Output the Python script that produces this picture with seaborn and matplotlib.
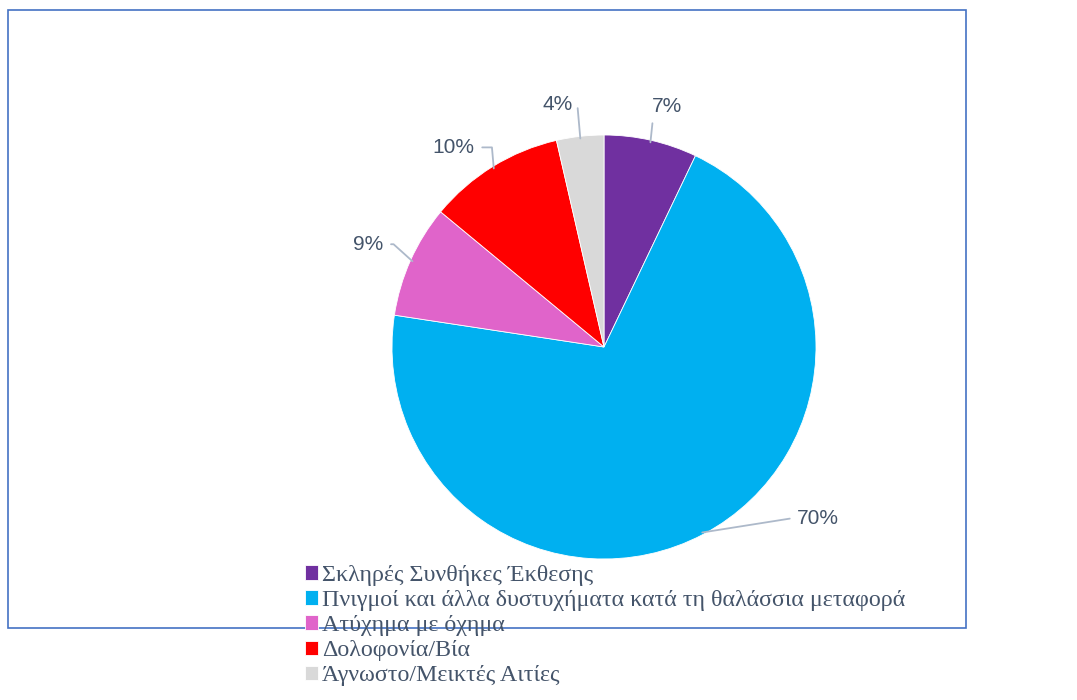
import numpy as np
import matplotlib
matplotlib.use("Agg")
import matplotlib.pyplot as plt
import seaborn as sns
from matplotlib.patches import Rectangle

sns.set_style("white")
plt.rcParams['font.family'] = ['Liberation Sans', 'DejaVu Sans']

# data (shares in %)
categories = ['Σκληρές Συνθήκες Έκθεσης',
              'Πνιγμοί και άλλα δυστυχήματα κατά τη θαλάσσια μεταφορά',
              'Ατύχημα με όχημα',
              'Δολοφονία/Βία',
              'Άγνωστο/Μεικτές Αιτίες']
shares = [7.1, 70.3, 8.6, 10.4, 3.6]
colors = sns.color_palette(['#7030A0', '#00B0F0', '#E064CA', '#FF0000', '#D9D9D9'])

# label offsets from the wedge edge (pixels) and angle of the leader line near the wedge
label_offsets = [(17, 36), (116, 14), (-44, 17), (-40, 21), (-23, 34)]
leader_angles = [84, 9, 138, 95, 95]

text_col = '#44546A'
line_col = '#ADB9CA'

fig = plt.figure(figsize=(10.77, 7), dpi=100)

# outer chart frame
fig.patches.append(Rectangle((8 / 1077, 1 - 628 / 700), 958 / 1077, 618 / 700,
                             transform=fig.transFigure, fill=False,
                             edgecolor='#4472C4', linewidth=1.2))

ax = fig.add_axes([(604 - 212) / 1077, 1 - (347 + 212) / 700, 424 / 1077, 424 / 700])
wedges, _ = ax.pie(shares, colors=colors, startangle=90, counterclock=False,
                   radius=1, wedgeprops=dict(edgecolor='white', linewidth=0.6))
ax.set_xlim(-1, 1)
ax.set_ylim(-1, 1)
ax.set_aspect('equal')
ax.axis('off')

for w, val, off, ang in zip(wedges, shares, label_offsets, leader_angles):
    mid = np.deg2rad((w.theta1 + w.theta2) / 2)
    x, y = np.cos(mid), np.sin(mid)
    ax.annotate(f'{val:.0f}%', xy=(x * 0.99, y * 0.99), xytext=off,
                textcoords='offset pixels', ha='center', va='center',
                fontsize=15, color=text_col, annotation_clip=False,
                arrowprops=dict(arrowstyle='-', color=line_col, lw=1.3,
                                shrinkA=3, shrinkB=0,
                                connectionstyle=f'angle,angleA=0,angleB={ang},rad=0'))

leg = fig.legend(wedges, categories, loc='upper left',
                 bbox_to_anchor=(293 / 1077, 1 - 553 / 700),
                 frameon=False, handlelength=0.55, handleheight=0.55,
                 handletextpad=0.15, labelspacing=0.17, borderpad=0,
                 prop={'family': 'Liberation Serif', 'size': 17.3})
for t in leg.get_texts():
    t.set_color(text_col)

fig.savefig('out.png', dpi=100)
